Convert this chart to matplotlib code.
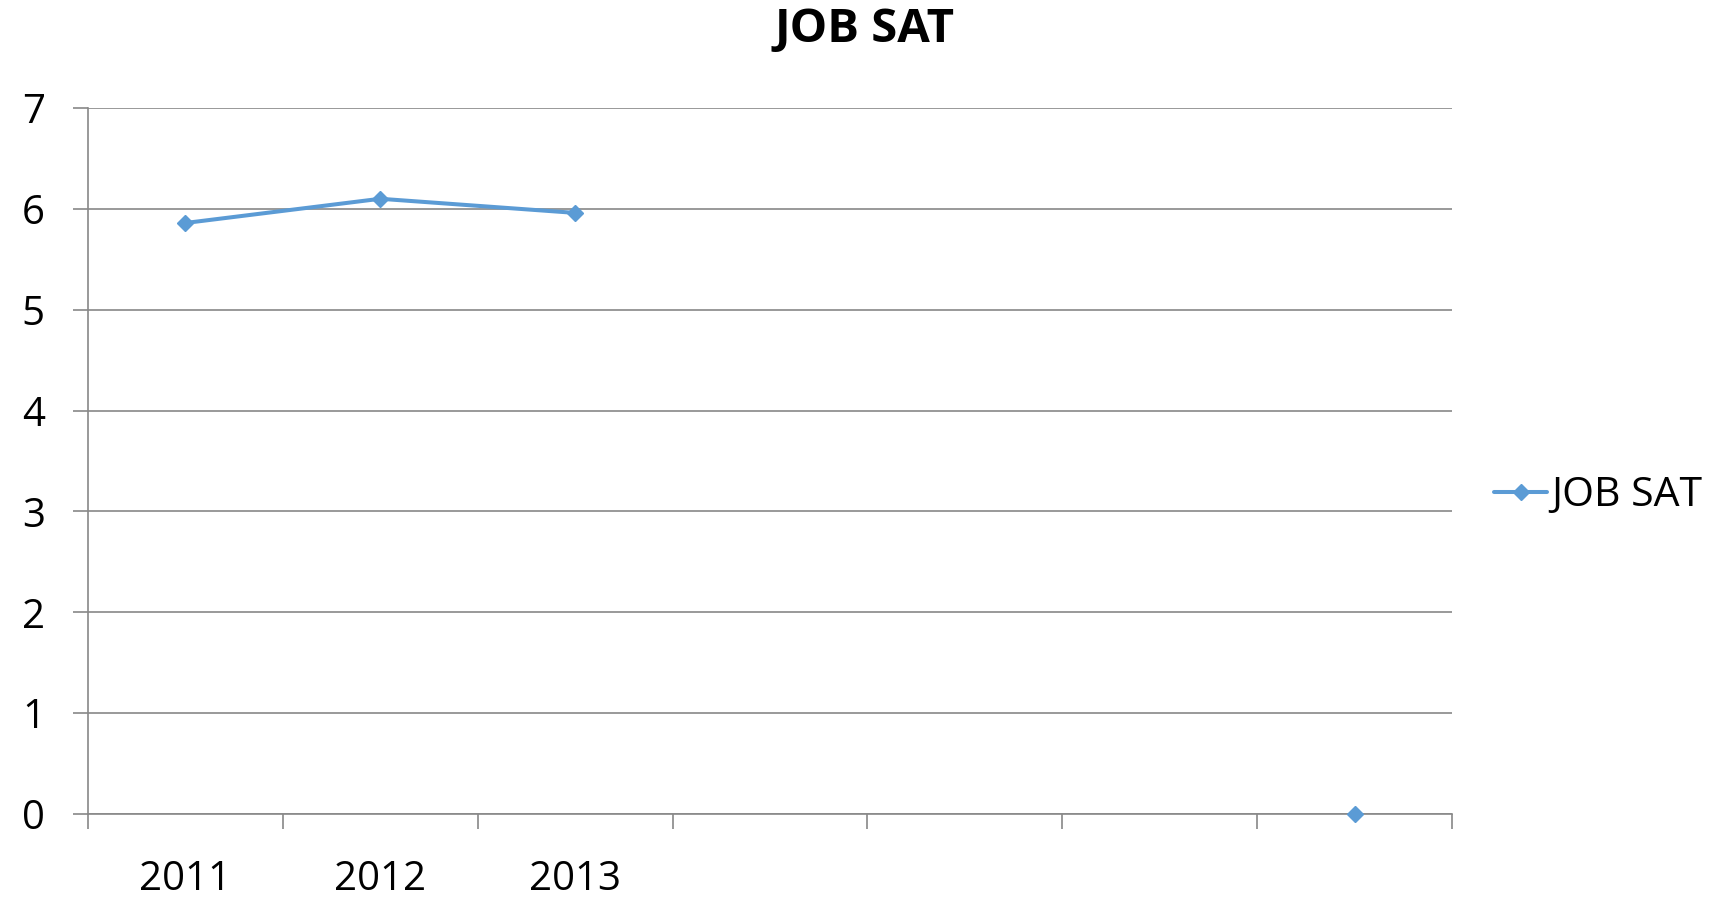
import numpy as np
import matplotlib
matplotlib.use("Agg")
import matplotlib.pyplot as plt

plt.rcParams['font.family'] = ['Open Sans', 'DejaVu Sans']

categories = ['2011', '2012', '2013', '', '', '', '']
values = [5.86, 6.10, 5.96, np.nan, np.nan, np.nan, 0.0]
series_name = 'JOB SAT'
title = 'JOB SAT'
yticks = [0, 1, 2, 3, 4, 5, 6, 7]

W, H, DPI = 1711, 899, 100
fig = plt.figure(figsize=(W / DPI, H / DPI), dpi=DPI)
L, R, T, B = 88, 1452, 108, 814
ax = fig.add_axes([L / W, 1 - B / H, (R - L) / W, (B - T) / H])

grey = '#888888'
blue = '#5B9BD5'
x = np.arange(len(categories))
ax.plot(x, values, color=blue, lw=2.9, marker='D', markersize=8.5,
        label=series_name, solid_capstyle='round', clip_on=False, zorder=5)

ax.set_xlim(-0.5, len(categories) - 0.5)
ax.set_ylim(0, 7)
ax.set_yticks(yticks)
ax.set_yticklabels([str(v) for v in yticks])
ax.set_xticks(x)
ax.set_xticklabels(categories)
ax.set_xticks(np.arange(len(categories) + 1) - 0.5, minor=True)

ax.tick_params(axis='x', which='major', length=0, pad=33, labelsize=29, colors='black')
ax.tick_params(axis='x', which='minor', length=11, width=1.2, color=grey, direction='out')
ax.tick_params(axis='y', length=11, width=1.2, color=grey, pad=20, labelsize=29)

ax.grid(axis='y', color=grey, lw=1.2)
ax.set_axisbelow(True)
for s in ['top', 'right']:
    ax.spines[s].set_visible(False)
for s in ['left', 'bottom']:
    ax.spines[s].set_color(grey)
    ax.spines[s].set_linewidth(1.2)

fig.text(865 / W, 1 - 29 / H, title, ha='center', va='center',
         fontsize=34, fontweight='bold')

fig.legend(handles=ax.get_lines(), loc='center left',
           bbox_to_anchor=(1494 / W, 1 - 496 / H), frameon=False,
           fontsize=29.5, handlelength=1.3, handletextpad=0.1,
           borderpad=0, borderaxespad=0)

fig.savefig('out.png', dpi=DPI)
